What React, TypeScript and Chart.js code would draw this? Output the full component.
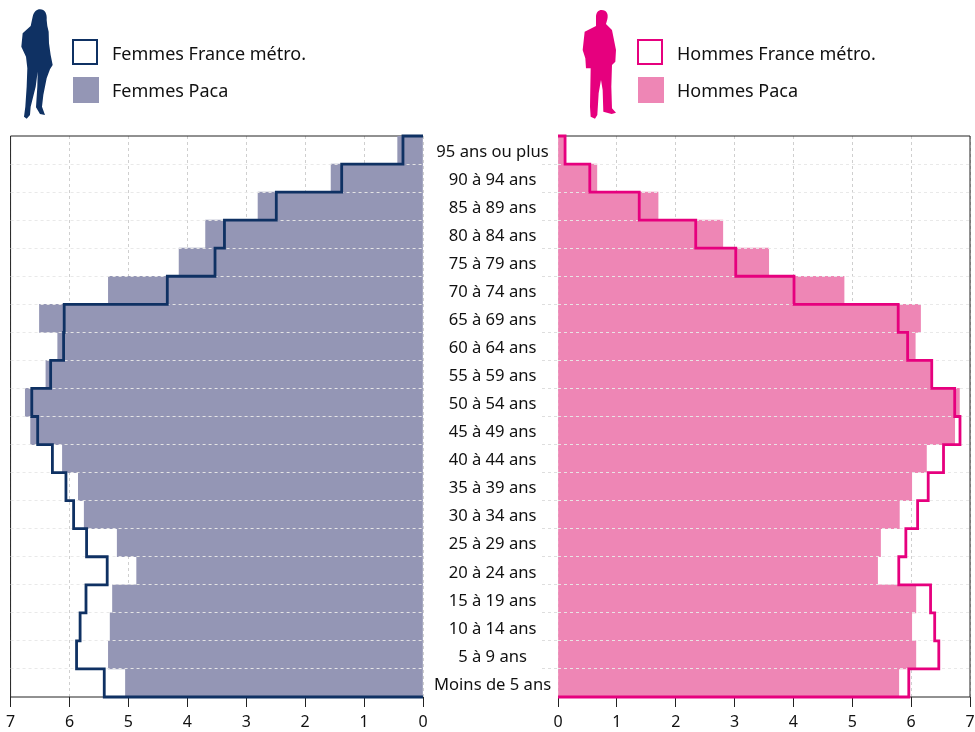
import React, { useEffect, useRef } from "react";
import { Chart, registerables } from "chart.js";

Chart.register(...registerables);

const ageGroups = ["95 ans ou plus", "90 à 94 ans", "85 à 89 ans", "80 à 84 ans", "75 à 79 ans", "70 à 74 ans", "65 à 69 ans", "60 à 64 ans", "55 à 59 ans", "50 à 54 ans", "45 à 49 ans", "40 à 44 ans", "35 à 39 ans", "30 à 34 ans", "25 à 29 ans", "20 à 24 ans", "15 à 19 ans", "10 à 14 ans", "5 à 9 ans", "Moins de 5 ans"];
const femmesPaca = [0.43, 1.56, 2.8, 3.69, 4.14, 5.34, 6.51, 6.2, 6.4, 6.75, 6.66, 6.12, 5.85, 5.75, 5.19, 4.86, 5.27, 5.31, 5.34, 5.05];
const femmesFrance = [0.34, 1.38, 2.49, 3.37, 3.53, 4.34, 6.09, 6.1, 6.32, 6.64, 6.54, 6.29, 6.06, 5.93, 5.71, 5.36, 5.72, 5.82, 5.88, 5.41];
const hommesPaca = [0.1, 0.66, 1.7, 2.8, 3.58, 4.86, 6.16, 6.07, 6.33, 6.82, 6.74, 6.26, 6.01, 5.8, 5.48, 5.43, 6.08, 6.01, 6.08, 5.79];
const hommesFrance = [0.12, 0.54, 1.38, 2.34, 3.02, 4.01, 5.78, 5.94, 6.35, 6.74, 6.83, 6.55, 6.29, 6.11, 5.91, 5.79, 6.33, 6.4, 6.47, 5.96];

const FONT = "'Noto Sans', sans-serif";
const NAVY = "#0f3163";
const PINK = "#e6007e";
const NAVY_FILL = "#9496b5";
const PINK_FILL = "#ee86b5";

function outline(values: number[]) {
  const pts: { x: number; y: number }[] = [{ x: 0, y: 0 }];
  values.forEach((v, i) => {
    pts.push({ x: v, y: i });
    pts.push({ x: v, y: i + 1 });
  });
  pts.push({ x: 0, y: values.length });
  return pts;
}

const framePlugin = {
  id: "frame",
  beforeDatasetsDraw(chart: any) {
    const { ctx, chartArea: a } = chart;
    const far = chart.options.scales.x.reverse ? a.left : a.right;
    ctx.save();
    ctx.strokeStyle = "#222";
    ctx.lineWidth = 1;
    ctx.beginPath();
    ctx.moveTo(a.left, a.top);
    ctx.lineTo(a.right, a.top);
    ctx.moveTo(far, a.top);
    ctx.lineTo(far, a.bottom);
    ctx.moveTo(a.left, a.bottom);
    ctx.lineTo(a.right, a.bottom);
    ctx.stroke();
    ctx.restore();
  },
  // The stepped outline goes above the dashed grid, which itself goes above the bars.
  beforeDatasetDraw(_chart: any, args: any) {
    if (args.index === 1) return false;
  },
  afterDraw(chart: any) {
    chart.getDatasetMeta(1).controller.draw();
  },
};

function Pyramid({ left, width, reverse, fill, line, paca, france, showLabels, padLeft, padRight, yWidth }: any) {
  const ref = useRef<HTMLCanvasElement>(null);
  useEffect(() => {
    const chart = new Chart(ref.current as HTMLCanvasElement, {
      type: "bar",
      data: {
        labels: ageGroups,
        datasets: [
          { type: "bar", indexAxis: "y", data: paca, backgroundColor: fill, borderWidth: 0, barPercentage: 1, categoryPercentage: 1, order: 2, yAxisID: "y", xAxisID: "x" },
          { type: "line", indexAxis: "y", data: outline(france), borderColor: line, borderWidth: 2.8, pointRadius: 0, tension: 0, clip: false, order: 1, yAxisID: "y2", xAxisID: "x", borderJoinStyle: "miter" },
        ] as any,
      },
      plugins: [framePlugin],
      options: {
        animation: false,
        responsive: false,
        layout: { padding: { top: 136, bottom: 0, left: padLeft, right: padRight } },
        plugins: { legend: { display: false }, tooltip: { enabled: false } },
        scales: {
          x: {
            type: "linear",
            reverse,
            offset: false,
            min: 0,
            max: 7,
            afterFit: (s: any) => { s.height = 35; },
            ticks: { stepSize: 1, color: "#111", font: { family: FONT, size: 16 }, padding: 6, maxRotation: 0 },
            grid: { offset: false, color: "#cfcfcf", lineWidth: 1, tickBorderDash: [], tickColor: "#222", tickLength: 10, z: -1 } as any,
            border: { display: false, dash: [3, 3] } as any,
          },
          y: {
            type: "category",
            offset: true,
            position: reverse ? "right" : "left",
            afterFit: (s: any) => { s.width = yWidth; },
            ticks: { display: showLabels, color: "#111", font: { family: FONT, size: 16.6 }, crossAlign: "center", padding: 11, labelOffset: 2, autoSkip: false },
            grid: {
              z: 1,
              offset: true,
              drawTicks: !reverse,
              tickLength: 16,
              tickColor: (c: any) => (c.type === "tick" && c.index > 0 ? "#dedede" : "transparent"),
              tickBorderDash: [3, 3],
              color: (c: any) => (c.type === "tick" && c.index > 0 ? "rgba(232,232,232,0.95)" : "transparent"),
            } as any,
            border: { display: false, dash: [3, 3] } as any,
          },
          y2: { type: "linear", display: false, offset: false, reverse: true, min: 0, max: ageGroups.length },
        },
      } as any,
    });
    return () => chart.destroy();
  }, []);
  return <canvas ref={ref} width={width} height={732} style={{ position: "absolute", left, top: 0, width, height: 732, display: "block" }} />;
}

const labelStyle: React.CSSProperties = { position: "absolute", fontFamily: FONT, fontSize: 18, color: "#111", lineHeight: "24px", whiteSpace: "nowrap" };

function box(left: number, top: number, color: string, filled: boolean): React.CSSProperties {
  return { position: "absolute", left, top, width: 26, height: 26, boxSizing: "border-box", background: filled ? color : "#fff", border: filled ? "none" : `2px solid ${color}` };
}

export default function App() {
  return (
    <div style={{ position: "absolute", left: 0, top: 0, width: 975, height: 732, overflow: "hidden", background: "#fff" }}>
      <Pyramid left={0} width={558} reverse fill={NAVY_FILL} line={NAVY} paca={femmesPaca} france={femmesFrance} showLabels padLeft={10} padRight={0} yWidth={135} />
      <Pyramid left={540} width={445} reverse={false} fill={PINK_FILL} line={PINK} paca={hommesPaca} france={hommesFrance} showLabels={false} padLeft={0} padRight={15} yWidth={18} />
      <svg width={975} height={132} style={{ position: "absolute", left: 0, top: 0 }}>
        <g transform="scale(0.3333)">
          <path fill={NAVY} d="M120 28 C135 28 142 42 140 60 L142 78 L146 95 L147 130 L152 165 L158 195 L150 208 L140 235 L130 285 L126 320 L135 345 L120 342 L108 322 L112 260 L113 215 L107 260 L92 320 L90 345 L80 356 L72 350 L76 320 L80 260 L82 205 L78 170 L64 140 L68 100 L92 78 L98 50 C102 35 110 28 120 28 Z" />
        </g>
        <g transform="translate(540 0) scale(0.3333)">
          <path fill={PINK} d="M185 30 C200 30 206 42 202 58 L198 72 L216 90 L222 120 L228 150 L226 185 L216 195 L214 260 L216 325 L228 338 L215 342 L190 335 L188 270 L183 240 L176 280 L172 345 L165 356 L152 350 L150 320 L152 205 L138 205 L136 175 L128 150 L134 95 L168 78 L168 50 C168 38 175 30 185 30 Z" />
        </g>
      </svg>
      <div style={box(72, 39, NAVY, false)} />
      <div style={box(73, 77, NAVY_FILL, true)} />
      <div style={{ ...labelStyle, left: 112, top: 41 }}>Femmes France métro.</div>
      <div style={{ ...labelStyle, left: 112, top: 78 }}>Femmes Paca</div>
      <div style={box(637, 39, PINK, false)} />
      <div style={box(638, 77, PINK_FILL, true)} />
      <div style={{ ...labelStyle, left: 677, top: 41 }}>Hommes France métro.</div>
      <div style={{ ...labelStyle, left: 677, top: 78 }}>Hommes Paca</div>
    </div>
  );
}
